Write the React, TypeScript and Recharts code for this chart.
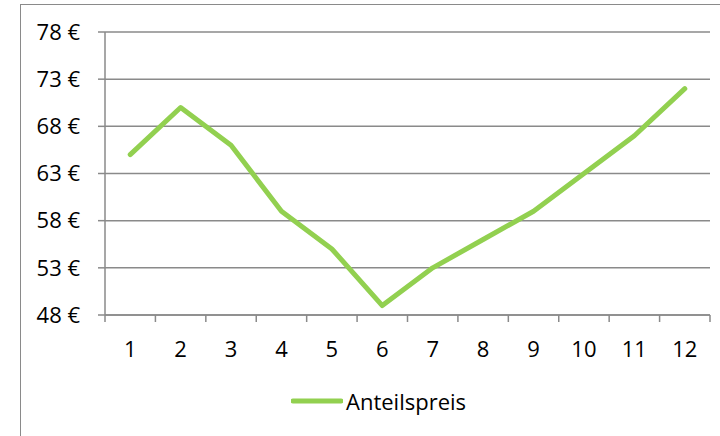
import { CartesianGrid, Legend, Line, LineChart, XAxis, YAxis } from 'recharts'

const months = [1, 2, 3, 4, 5, 6, 7, 8, 9, 10, 11, 12]
const prices = [65, 70, 66, 59, 55, 49, 53, 56, 59, 63, 67, 72]
const priceTicks = [48, 53, 58, 63, 68, 73, 78]
const seriesName = 'Anteilspreis'

const FONT = '"Open Sans", sans-serif'
const GRID = '#8a8a8a'
const GREEN = '#92d050'

const data = months.map((month, i) => ({ month, price: prices[i] }))

// category boundaries get the tick marks, centres get the labels
const xTicks = [
  ...months.flatMap((m) => [m - 0.5, m]),
  months[months.length - 1] + 0.5
]

function MonthTick(props: any) {
  const { x, y, payload } = props
  const v = payload.value
  if (Number.isInteger(v)) {
    return (
      <text x={x} y={y + 42} textAnchor="middle" fontSize={22} fontFamily={FONT} fill="#000">
        {v}
      </text>
    )
  }
  return <line x1={x} x2={x} y1={y} y2={y + 7} stroke={GRID} strokeWidth={1.5} />
}

function LegendContent({ payload }: any) {
  return (
    <div style={{ display: 'flex', alignItems: 'center' }}>
      {(payload || []).map((entry: any) => (
        <div key={entry.value} style={{ display: 'flex', alignItems: 'center' }}>
          <svg width={52} height={10}>
            <line x1={2} x2={50} y1={5} y2={5} stroke={GREEN} strokeWidth={5} strokeLinecap="round" />
          </svg>
          <span style={{ fontFamily: FONT, fontSize: 22, color: '#000', marginLeft: 3 }}>
            {entry.value}
          </span>
        </div>
      ))}
    </div>
  )
}

export default function App() {
  return (
    <div
      style={{
        position: 'absolute',
        left: 0,
        top: 0,
        width: 720,
        height: 436,
        overflow: 'hidden',
        background: '#fff'
      }}
    >
      <div
        style={{
          position: 'absolute',
          left: 20,
          top: 4,
          width: 800,
          height: 500,
          border: `1.5px solid ${GRID}`
        }}
      />
      <div style={{ position: 'absolute', left: 0, top: 0 }}>
        <LineChart width={720} height={436} data={data} margin={{ top: 32, right: 10, bottom: 71, left: 0 }}>
          <CartesianGrid vertical={false} stroke={GRID} strokeWidth={1.5} />
          <XAxis
            dataKey="month"
            type="number"
            domain={[0.5, 12.5]}
            ticks={xTicks}
            interval={0}
            height={50}
            tickLine={false}
            tickSize={0}
            tickMargin={0}
            axisLine={{ stroke: GRID, strokeWidth: 1.5 }}
            tick={<MonthTick />}
          />
          <YAxis
            width={105}
            domain={[48, 78]}
            ticks={priceTicks}
            interval={0}
            tickFormatter={(v) => `${v} €`}
            tickSize={7}
            tickMargin={18}
            tickLine={{ stroke: GRID, strokeWidth: 1.5 }}
            axisLine={{ stroke: GRID, strokeWidth: 1.5 }}
            tick={{ fontSize: 22, fontFamily: FONT, fill: '#000' }}
          />
          <Legend
            layout="horizontal"
            verticalAlign="middle"
            align="center"
            content={<LegendContent />}
            wrapperStyle={{ left: 291, top: 386, width: 'auto', height: 'auto' }}
          />
          <Line
            type="linear"
            dataKey="price"
            name={seriesName}
            stroke={GREEN}
            strokeWidth={5}
            strokeLinecap="round"
            strokeLinejoin="round"
            dot={false}
            activeDot={false}
            isAnimationActive={false}
          />
        </LineChart>
      </div>
    </div>
  )
}
